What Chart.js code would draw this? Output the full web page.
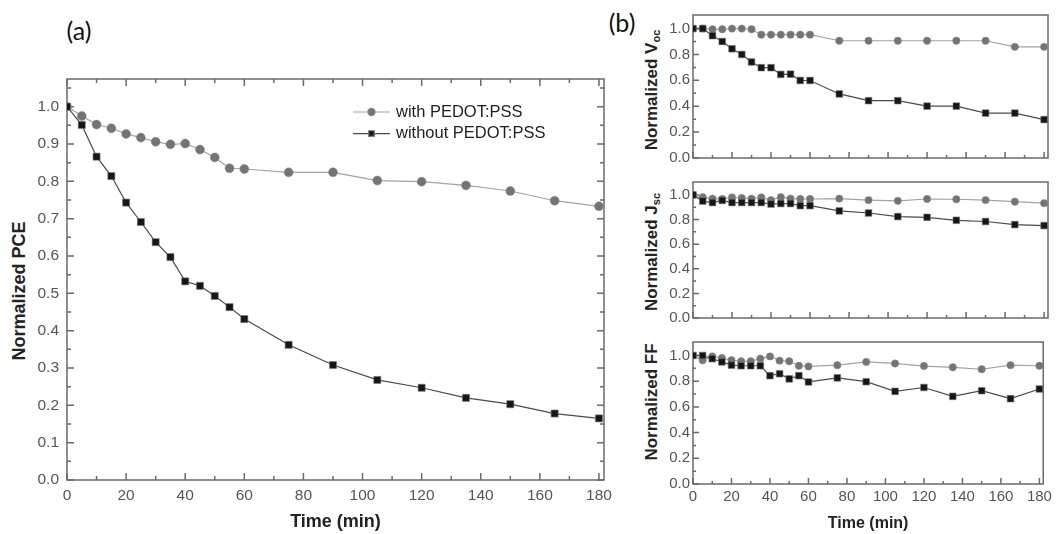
<!DOCTYPE html>
<html>
<head>
<meta charset="utf-8">
<script src="https://cdn.jsdelivr.net/npm/chart.js@4.4.1/dist/chart.umd.min.js"></script>
<style>
  body { margin: 0; background: #fff; width: 1056px; height: 534px; position: relative; overflow: hidden; }
  .box { position: absolute; }
  .tag { position: absolute; font-family: Lato, "Open Sans", sans-serif; font-size: 25px; color: #111; transform: translate(-50%, -50%); }
  .ytitle { position: absolute; font-family: "Liberation Sans", Arial, sans-serif; font-weight: bold; color: #222;
            white-space: nowrap; transform: translate(-50%, -50%) rotate(-90deg); }
  .ytitle sub { font-size: 0.65em; vertical-align: -0.35em; }
</style>
</head>
<body>
<div class="tag" style="left:79px;top:30px">(a)</div>
<div class="tag" style="left:622px;top:22px">(b)</div>

<div class="ytitle" style="left:19px;top:291px;font-size:18px">Normalized PCE</div>
<div class="ytitle" style="left:652px;top:90px;font-size:17px">Normalized V<sub>oc</sub></div>
<div class="ytitle" style="left:652px;top:252px;font-size:17px">Normalized J<sub>sc</sub></div>
<div class="ytitle" style="left:652px;top:402px;font-size:17px">Normalized FF</div>

<div class="box" style="left:0;top:0;width:620px;height:534px"><canvas id="pceChart"></canvas></div>
<div class="box" style="left:600px;top:0;width:456px;height:170px"><canvas id="vocChart"></canvas></div>
<div class="box" style="left:600px;top:170px;width:456px;height:160px"><canvas id="jscChart"></canvas></div>
<div class="box" style="left:600px;top:330px;width:456px;height:204px"><canvas id="ffChart"></canvas></div>

<script>
// time axis (minutes)
const timeMin = [0, 5, 10, 15, 20, 25, 30, 35, 40, 45, 50, 55, 60, 75, 90, 105, 120, 135, 150, 165, 180];

// (a) normalized PCE
const pceWith    = [1.0, 0.975, 0.952, 0.942, 0.927, 0.917, 0.906, 0.899, 0.901, 0.885, 0.864, 0.835, 0.833, 0.824, 0.824, 0.802, 0.799, 0.789, 0.774, 0.748, 0.733];
const pceWithout = [1.0, 0.951, 0.866, 0.814, 0.743, 0.691, 0.637, 0.597, 0.532, 0.520, 0.493, 0.463, 0.431, 0.362, 0.308, 0.268, 0.247, 0.220, 0.203, 0.178, 0.165];

// (b) normalized Voc, Jsc, FF
const vocWith    = [1.0, 1.0, 0.995, 0.995, 1.0, 1.0, 0.995, 0.953, 0.953, 0.953, 0.953, 0.953, 0.953, 0.906, 0.906, 0.906, 0.906, 0.906, 0.906, 0.859, 0.859];
const vocWithout = [1.0, 1.0, 0.945, 0.900, 0.844, 0.800, 0.742, 0.698, 0.698, 0.646, 0.648, 0.599, 0.599, 0.495, 0.443, 0.443, 0.401, 0.401, 0.347, 0.347, 0.297];
const jscWith    = [1.0, 0.982, 0.970, 0.967, 0.980, 0.975, 0.970, 0.980, 0.958, 0.982, 0.970, 0.967, 0.967, 0.970, 0.958, 0.952, 0.967, 0.965, 0.958, 0.945, 0.933];
const jscWithout = [1.0, 0.950, 0.938, 0.955, 0.938, 0.938, 0.938, 0.938, 0.926, 0.930, 0.930, 0.913, 0.913, 0.870, 0.853, 0.824, 0.818, 0.794, 0.784, 0.759, 0.751];
const ffWith     = [1.0, 0.963, 0.993, 0.980, 0.963, 0.955, 0.955, 0.975, 0.993, 0.960, 0.955, 0.920, 0.915, 0.925, 0.950, 0.938, 0.918, 0.908, 0.893, 0.925, 0.920];
const ffWithout  = [1.0, 1.0, 0.975, 0.950, 0.925, 0.920, 0.920, 0.920, 0.843, 0.858, 0.818, 0.843, 0.794, 0.826, 0.796, 0.721, 0.751, 0.682, 0.726, 0.664, 0.739];

// tick values
const timeTicks  = [0, 20, 40, 60, 80, 100, 120, 140, 160, 180];
const timeMinor  = [10, 30, 50, 70, 90, 110, 130, 150, 170];
const pceYTicks  = [0, 0.1, 0.2, 0.3, 0.4, 0.5, 0.6, 0.7, 0.8, 0.9, 1.0];
const pceYMinor  = [0.05, 0.15, 0.25, 0.35, 0.45, 0.55, 0.65, 0.75, 0.85, 0.95, 1.05];
const subYTicks  = [0, 0.2, 0.4, 0.6, 0.8, 1.0];
const subYMinor  = [0.1, 0.3, 0.5, 0.7, 0.9];

const seriesNames = ['with PEDOT:PSS', 'without PEDOT:PSS'];

Chart.defaults.font.family = '"Liberation Sans", Arial, sans-serif';
Chart.defaults.animation = false;

// box frame with inward ticks
const framePlugin = {
    id: 'frame',
    beforeDatasetsDraw(chart, args, opts) {
        const { ctx, chartArea: a, scales: { x, y } } = chart;
        ctx.save();
        ctx.strokeStyle = '#6a6a6a';
        ctx.lineWidth = 1.5;
        ctx.strokeRect(a.left, a.top, a.right - a.left, a.bottom - a.top);
        ctx.beginPath();
        const xt = (v, len) => {
            const p = x.getPixelForValue(v);
            ctx.moveTo(p, a.bottom); ctx.lineTo(p, a.bottom - len);
            if (opts.mirror) { ctx.moveTo(p, a.top); ctx.lineTo(p, a.top + len); }
        };
        const yt = (v, len) => {
            const p = y.getPixelForValue(v);
            ctx.moveTo(a.left, p); ctx.lineTo(a.left + len, p);
            if (opts.mirror) { ctx.moveTo(a.right, p); ctx.lineTo(a.right - len, p); }
        };
        x.ticks.forEach(t => xt(t.value, opts.major));
        opts.xMinor.forEach(v => xt(v, opts.minor));
        y.ticks.forEach(t => yt(t.value, opts.major));
        opts.yMinor.forEach(v => yt(v, opts.minor));
        ctx.stroke();
        ctx.restore();
    }
};

// legend with line + marker sample
const lineLegend = {
    id: 'lineLegend',
    afterDraw(chart, args, opts) {
        if (!opts.show) return;
        const ctx = chart.ctx;
        ctx.save();
        chart.data.datasets.forEach((ds, i) => {
            const yy = opts.y + i * opts.gap;
            ctx.strokeStyle = ds.borderColor;
            ctx.lineWidth = 1.2;
            ctx.beginPath();
            ctx.moveTo(opts.x, yy);
            ctx.lineTo(opts.x + opts.len, yy);
            ctx.stroke();
            ctx.fillStyle = ds.pointBackgroundColor;
            ctx.strokeStyle = ds.pointBorderColor;
            Chart.helpers.drawPoint(ctx, {
                pointStyle: ds.pointStyle, radius: ds.pointRadius * 0.8, rotation: 0, borderWidth: ds.pointBorderWidth
            }, opts.x + opts.len / 2, yy);
            ctx.fillStyle = '#1e1e1e';
            ctx.font = '16.5px "Liberation Sans", Arial, sans-serif';
            ctx.textBaseline = 'middle';
            ctx.fillText(ds.label, opts.x + opts.len + 6, yy);
        });
        ctx.restore();
    }
};

function makeDatasets(withVals, withoutVals, rCircle, rSquare) {
    return [
        {
            label: seriesNames[0], data: withVals.map((v, i) => ({ x: timeMin[i], y: v })),
            borderColor: '#a3a3a3', borderWidth: 1.2,
            pointStyle: 'circle', pointRadius: rCircle, pointBackgroundColor: '#747474',
            pointBorderColor: '#8a8a8a', pointBorderWidth: 0.5, order: 1
        },
        {
            label: seriesNames[1], data: withoutVals.map((v, i) => ({ x: timeMin[i], y: v })),
            borderColor: '#4a4a4a', borderWidth: 1.2,
            pointStyle: 'rect', pointRadius: rSquare, pointBackgroundColor: '#161616',
            pointBorderColor: '#777', pointBorderWidth: 0.6, order: 0
        }
    ];
}

function makeChart(id, cfg) {
    const ctx = document.getElementById(id).getContext('2d');
    const tickFont = { size: cfg.tickSize, family: cfg.tickFamily };
    return new Chart(ctx, {
        type: 'line',
        data: { datasets: makeDatasets(cfg.withVals, cfg.withoutVals, cfg.rCircle, cfg.rSquare) },
        options: {
            responsive: true,
            maintainAspectRatio: false,
            layout: { padding: cfg.padding },
            plugins: {
                legend: { display: false },
                tooltip: { enabled: false },
                frame: { mirror: cfg.mirror, major: cfg.major, minor: cfg.minor, xMinor: timeMinor, yMinor: cfg.yMinor },
                lineLegend: cfg.legend || { show: false }
            },
            scales: {
                x: {
                    type: 'linear', min: 0, max: cfg.xMax,
                    afterBuildTicks: s => { s.ticks = timeTicks.map(v => ({ value: v })); },
                    afterFit: s => { s.height = cfg.xHeight; },
                    grid: { display: false, drawTicks: false },
                    border: { display: false },
                    ticks: { display: cfg.xLabels, color: '#555', font: tickFont, padding: cfg.xPad, maxRotation: 0, autoSkip: false },
                    title: { display: cfg.xLabels, text: 'Time (min)', color: '#222', font: { size: cfg.xTitleSize, weight: 'bold' }, padding: { top: 0, bottom: cfg.xTitlePad } }
                },
                y: {
                    min: 0, max: cfg.yMax,
                    afterBuildTicks: s => { s.ticks = cfg.yTicks.map(v => ({ value: v })); },
                    afterFit: s => { s.width = cfg.yWidth; },
                    grid: { display: false, drawTicks: false },
                    border: { display: false },
                    ticks: { color: '#555', font: tickFont, padding: cfg.yPad, autoSkip: false, callback: v => v.toFixed(1) }
                }
            }
        },
        plugins: [framePlugin, lineLegend]
    });
}

const sansFont = '"Liberation Sans", Arial, sans-serif';
const narrowFont = '"Liberation Sans Narrow", "Liberation Sans", Arial, sans-serif';

makeChart('pceChart', {
    withVals: pceWith, withoutVals: pceWithout, rCircle: 4.5, rSquare: 5,
    padding: { top: 79, right: 16, bottom: 0, left: 0 },
    xMax: 181.7, yMax: 1.074, yTicks: pceYTicks, yMinor: pceYMinor,
    xHeight: 54, yWidth: 67, xLabels: true, tickSize: 15.5, tickFamily: sansFont, xPad: 6, yPad: 8,
    xTitleSize: 18, xTitlePad: 1, mirror: true, major: 7, minor: 4,
    legend: { show: true, x: 353, y: 112, gap: 21.6, len: 37 }
});

makeChart('vocChart', {
    withVals: vocWith, withoutVals: vocWithout, rCircle: 3.7, rSquare: 4.7,
    padding: { top: 15, right: 8, bottom: 0, left: 0 },
    xMax: 182, yMax: 1.105, yTicks: subYTicks, yMinor: subYMinor,
    xHeight: 6, yWidth: 93, xLabels: false, tickSize: 15, tickFamily: narrowFont, xPad: 4, yPad: 3,
    xTitleSize: 16, xTitlePad: 1, mirror: false, major: 6, minor: 3
});

makeChart('jscChart', {
    withVals: jscWith, withoutVals: jscWithout, rCircle: 3.7, rSquare: 4.7,
    padding: { top: 4, right: 8, bottom: 0, left: 0 },
    xMax: 182, yMax: 1.105, yTicks: subYTicks, yMinor: subYMinor,
    xHeight: 7, yWidth: 93, xLabels: false, tickSize: 15, tickFamily: narrowFont, xPad: 4, yPad: 3,
    xTitleSize: 16, xTitlePad: 1, mirror: false, major: 6, minor: 3
});

makeChart('ffChart', {
    withVals: ffWith, withoutVals: ffWithout, rCircle: 3.7, rSquare: 4.7,
    padding: { top: 6, right: 8, bottom: 0, left: 0 },
    xMax: 182, yMax: 1.105, yTicks: subYTicks, yMinor: subYMinor,
    xHeight: 50, yWidth: 93, xLabels: true, tickSize: 15, tickFamily: narrowFont, xPad: 4, yPad: 3,
    xTitleSize: 16, xTitlePad: 1, mirror: false, major: 6, minor: 3
});
</script>
</body>
</html>
